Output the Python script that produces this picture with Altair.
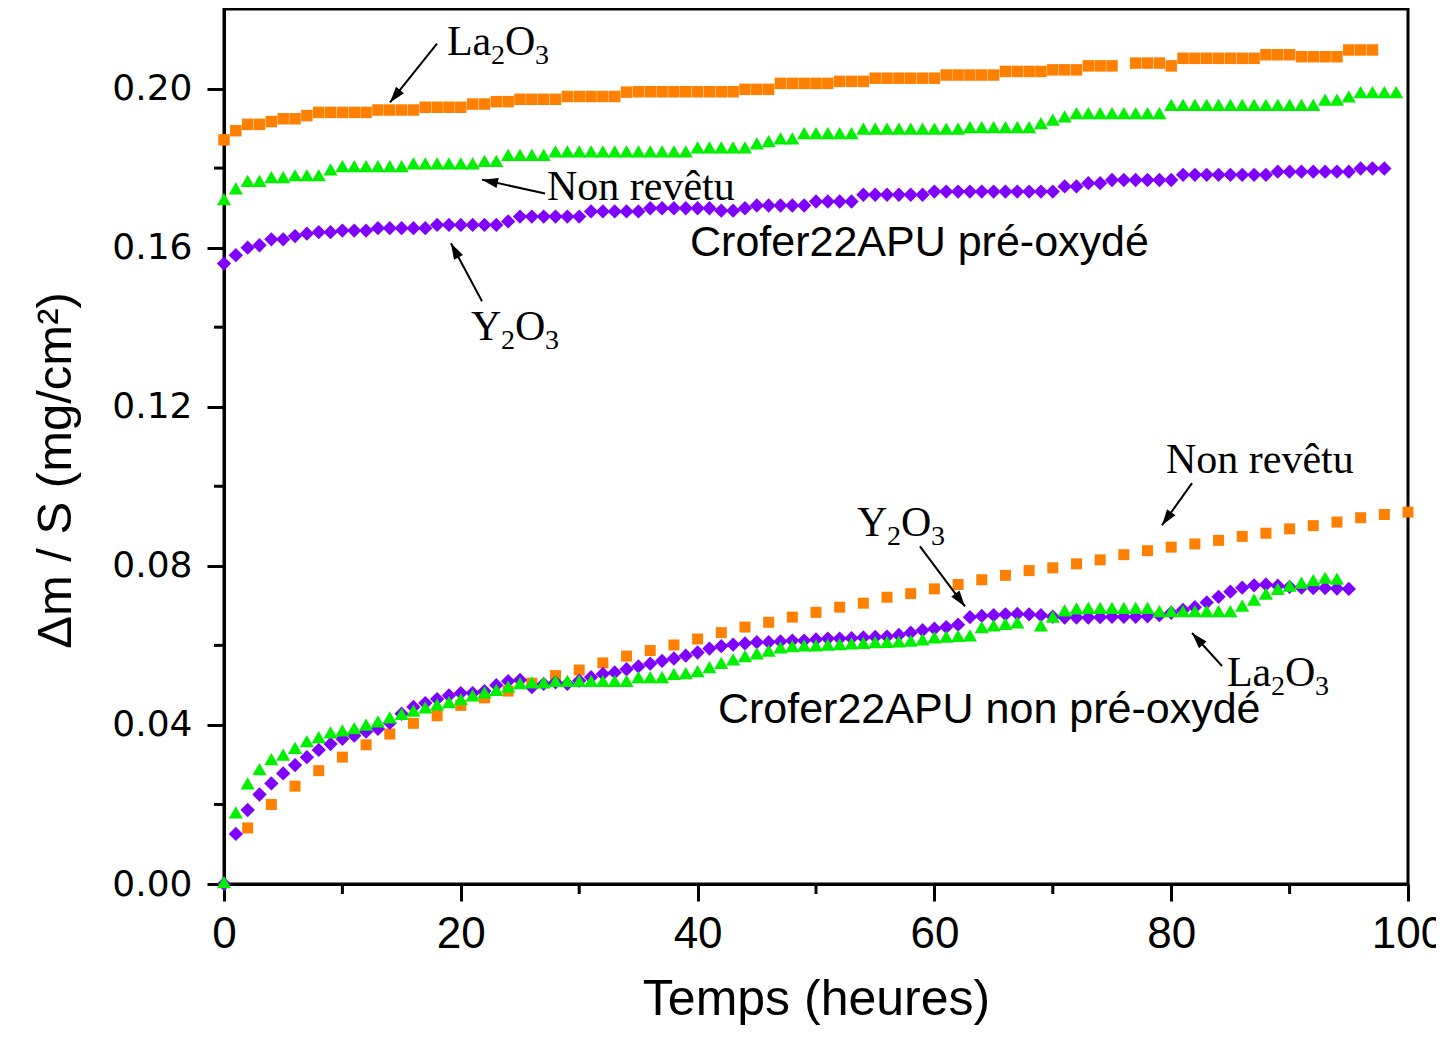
import math
import altair as alt
import pandas as pd

# ---------------- data ----------------
# Crofer22APU pré-oxydé
pre_la_t = [0, 1, 2, 3, 4, 5, 6, 7, 8, 9, 10, 11, 12, 13, 14, 15, 16, 17, 18, 19,
            20, 21, 22, 23, 24, 25, 26, 27, 28, 29, 30, 31, 32, 33, 34, 35, 36, 37, 38, 39,
            40, 41, 42, 43, 44, 45, 46, 47, 48, 49, 50, 51, 52, 53, 54, 55, 56, 57, 58, 59,
            60, 61, 62, 63, 64, 65, 66, 67, 68, 69, 70, 71, 72, 73, 74, 75, 77, 78, 79,
            80, 81, 82, 83, 84, 85, 86, 87, 88, 89, 90, 91, 92, 93, 94, 95, 96, 97]
pre_la_v = [0.1871, 0.1894, 0.1910, 0.1910, 0.1917, 0.1924, 0.1924, 0.1932, 0.1940, 0.1940,
            0.1940, 0.1940, 0.1940, 0.1946, 0.1946, 0.1946, 0.1946, 0.1953, 0.1953, 0.1953,
            0.1953, 0.1961, 0.1961, 0.1967, 0.1967, 0.1973, 0.1973, 0.1973, 0.1973, 0.1980,
            0.1980, 0.1980, 0.1980, 0.1980, 0.1991, 0.1992, 0.1992, 0.1992, 0.1992, 0.1992,
            0.1992, 0.1992, 0.1992, 0.1992, 0.1998, 0.1998, 0.1998, 0.2013, 0.2013, 0.2013,
            0.2013, 0.2013, 0.2018, 0.2018, 0.2018, 0.2026, 0.2026, 0.2026, 0.2026, 0.2026,
            0.2026, 0.2034, 0.2034, 0.2034, 0.2034, 0.2034, 0.2043, 0.2043, 0.2043, 0.2043,
            0.2047, 0.2047, 0.2047, 0.2057, 0.2057, 0.2057, 0.2064, 0.2064, 0.2064,
            0.2057, 0.2076, 0.2076, 0.2076, 0.2076, 0.2076, 0.2076, 0.2076, 0.2085, 0.2085,
            0.2085, 0.2080, 0.2080, 0.2080, 0.2080, 0.2097, 0.2097, 0.2097]

pre_nr_t = [0, 1, 2, 3, 4, 5, 6, 7, 8, 9, 10, 11, 12, 13, 14, 15, 16, 17, 18, 19,
            20, 21, 22, 23, 24, 25, 26, 27, 28, 29, 30, 31, 32, 33, 34, 35, 36, 37, 38, 39,
            40, 41, 42, 43, 44, 45, 46, 47, 48, 49, 50, 51, 52, 53, 54, 55, 56, 57, 58, 59,
            60, 61, 62, 63, 64, 65, 66, 67, 68, 69, 70, 71, 72, 73, 74, 75, 76, 77, 78, 79,
            80, 81, 82, 83, 84, 85, 86, 87, 88, 89, 90, 91, 92, 93, 94, 95, 96, 97, 98, 99]
pre_nr_v = [0.1722, 0.1749, 0.1768, 0.1768, 0.1777, 0.1777, 0.1782, 0.1782, 0.1782, 0.1797,
            0.1805, 0.1805, 0.1805, 0.1805, 0.1805, 0.1805, 0.1812, 0.1812, 0.1812, 0.1812,
            0.1812, 0.1812, 0.1818, 0.1818, 0.1833, 0.1833, 0.1833, 0.1833, 0.1842, 0.1842,
            0.1842, 0.1842, 0.1842, 0.1842, 0.1842, 0.1842, 0.1842, 0.1842, 0.1842, 0.1842,
            0.1852, 0.1852, 0.1852, 0.1852, 0.1852, 0.1862, 0.1868, 0.1875, 0.1875, 0.1888,
            0.1888, 0.1888, 0.1888, 0.1888, 0.1899, 0.1899, 0.1899, 0.1899, 0.1899, 0.1899,
            0.1899, 0.1899, 0.1899, 0.1903, 0.1903, 0.1903, 0.1903, 0.1903, 0.1903, 0.1913,
            0.1922, 0.1930, 0.1938, 0.1938, 0.1938, 0.1938, 0.1938, 0.1938, 0.1938, 0.1938,
            0.1959, 0.1959, 0.1959, 0.1959, 0.1959, 0.1959, 0.1959, 0.1959, 0.1959, 0.1959,
            0.1959, 0.1959, 0.1959, 0.1972, 0.1972, 0.1980, 0.1991, 0.1991, 0.1991, 0.1991]

pre_y_t = [0, 1, 2, 3, 4, 5, 6, 7, 8, 9, 10, 11, 12, 13, 14, 15, 16, 17, 18, 19,
           20, 21, 22, 23, 24, 25, 26, 27, 28, 29, 30, 31, 32, 33, 34, 35, 36, 37, 38, 39,
           40, 41, 42, 43, 44, 45, 46, 47, 48, 49, 50, 51, 52, 53, 54, 55, 56, 57, 58, 59,
           60, 61, 62, 63, 64, 65, 66, 67, 68, 69, 70, 71, 72, 73, 74, 75, 76, 77, 78, 79,
           80, 81, 82, 83, 84, 85, 86, 87, 88, 89, 90, 91, 92, 93, 94, 95, 96, 97, 98]
pre_y_v = [0.1560, 0.1581, 0.1600, 0.1606, 0.1621, 0.1621, 0.1629, 0.1635, 0.1639, 0.1639,
           0.1643, 0.1643, 0.1643, 0.1649, 0.1649, 0.1649, 0.1649, 0.1649, 0.1657, 0.1657,
           0.1657, 0.1657, 0.1657, 0.1657, 0.1666, 0.1678, 0.1678, 0.1678, 0.1678, 0.1678,
           0.1678, 0.1691, 0.1691, 0.1691, 0.1691, 0.1691, 0.1699, 0.1699, 0.1699, 0.1699,
           0.1699, 0.1699, 0.1693, 0.1693, 0.1699, 0.1706, 0.1706, 0.1706, 0.1706, 0.1706,
           0.1716, 0.1716, 0.1716, 0.1716, 0.1733, 0.1733, 0.1733, 0.1733, 0.1733, 0.1733,
           0.1741, 0.1741, 0.1741, 0.1741, 0.1741, 0.1741, 0.1741, 0.1741, 0.1741, 0.1741,
           0.1741, 0.1754, 0.1754, 0.1762, 0.1762, 0.1770, 0.1770, 0.1770, 0.1770, 0.1770,
           0.1770, 0.1783, 0.1783, 0.1783, 0.1783, 0.1783, 0.1783, 0.1783, 0.1783, 0.1791,
           0.1791, 0.1791, 0.1791, 0.1791, 0.1791, 0.1791, 0.1799, 0.1799, 0.1799]

# Crofer22APU non pré-oxydé
non_nr_t = [2, 4, 6, 8, 10, 12, 14, 16, 18, 20, 22, 24, 26, 28, 30, 32, 34, 36, 38, 40,
            42, 44, 46, 48, 50, 52, 54, 56, 58, 60, 62, 64, 66, 68, 70, 72, 74, 76, 78, 80,
            82, 84, 86, 88, 90, 92, 94, 96, 98, 100]
non_nr_v = [0.0141, 0.0200, 0.0246, 0.0285, 0.0319, 0.0350, 0.0377, 0.0404, 0.0423, 0.0449,
            0.0468, 0.0485, 0.0505, 0.0524, 0.0538, 0.0556, 0.0573, 0.0587, 0.0601, 0.0616,
            0.0632, 0.0646, 0.0658, 0.0671, 0.0683, 0.0696, 0.0706, 0.0721, 0.0730, 0.0742,
            0.0753, 0.0765, 0.0776, 0.0788, 0.0795, 0.0805, 0.0815, 0.0828, 0.0838, 0.0847,
            0.0855, 0.0864, 0.0874, 0.0882, 0.0893, 0.0901, 0.0910, 0.0921, 0.0929, 0.0935]

non_y_t = [0, 1, 2, 3, 4, 5, 6, 7, 8, 9, 10, 11, 12, 13, 14, 15, 16, 17, 18, 19,
           20, 21, 22, 23, 24, 25, 26, 27, 28, 29, 30, 31, 32, 33, 34, 35, 36, 37, 38, 39,
           40, 41, 42, 43, 44, 45, 46, 47, 48, 49, 50, 51, 52, 53, 54, 55, 56, 57, 58, 59,
           60, 61, 62, 63, 64, 65, 66, 67, 68, 69, 70, 71, 72, 73, 74, 75, 76, 77, 78, 79,
           80, 81, 82, 83, 84, 85, 86, 87, 88, 89, 90, 91, 92, 93, 94, 95]
non_y_v = [0.0000, 0.0126, 0.0186, 0.0225, 0.0253, 0.0278, 0.0299, 0.0319, 0.0337, 0.0352,
           0.0365, 0.0373, 0.0383, 0.0390, 0.0405, 0.0428, 0.0445, 0.0455, 0.0465, 0.0474,
           0.0480, 0.0480, 0.0485, 0.0500, 0.0510, 0.0513, 0.0495, 0.0503, 0.0507, 0.0503,
           0.0511, 0.0520, 0.0528, 0.0532, 0.0540, 0.0547, 0.0554, 0.0561, 0.0567, 0.0574,
           0.0582, 0.0592, 0.0598, 0.0602, 0.0605, 0.0608, 0.0608, 0.0610, 0.0612, 0.0612,
           0.0615, 0.0617, 0.0617, 0.0618, 0.0620, 0.0621, 0.0622, 0.0626, 0.0632, 0.0638,
           0.0642, 0.0646, 0.0652, 0.0671, 0.0674, 0.0676, 0.0678, 0.0679, 0.0678, 0.0676,
           0.0672, 0.0670, 0.0670, 0.0670, 0.0671, 0.0672, 0.0672, 0.0672, 0.0673, 0.0676,
           0.0682, 0.0689, 0.0696, 0.0708, 0.0722, 0.0735, 0.0745, 0.0751, 0.0753, 0.0750,
           0.0747, 0.0745, 0.0744, 0.0744, 0.0743, 0.0742]

non_la_t = [0, 1, 2, 3, 4, 5, 6, 7, 8, 9, 10, 11, 12, 13, 14, 15, 16, 17, 18, 19,
            20, 21, 22, 23, 24, 25, 26, 27, 28, 29, 30, 31, 32, 33, 34, 35, 36, 37, 38, 39,
            40, 41, 42, 43, 44, 45, 46, 47, 48, 49, 50, 51, 52, 53, 54, 55, 56, 57, 58, 59,
            60, 61, 62, 63, 64, 65, 66, 67, 69, 70, 71, 72, 73, 74, 75, 76, 77, 78, 79,
            80, 81, 82, 83, 84, 85, 86, 87, 88, 89, 90, 91, 92, 93, 94]
non_la_v = [0.0005, 0.0180, 0.0253, 0.0289, 0.0314, 0.0325, 0.0342, 0.0359, 0.0369, 0.0381,
            0.0386, 0.0392, 0.0401, 0.0409, 0.0419, 0.0428, 0.0436, 0.0444, 0.0451, 0.0457,
            0.0465, 0.0474, 0.0482, 0.0488, 0.0496, 0.0505, 0.0507, 0.0507, 0.0511, 0.0511,
            0.0511, 0.0511, 0.0511, 0.0511, 0.0511, 0.0520, 0.0520, 0.0520, 0.0528, 0.0530,
            0.0535, 0.0545, 0.0556, 0.0565, 0.0573, 0.0580, 0.0587, 0.0595, 0.0598, 0.0600,
            0.0600, 0.0602, 0.0603, 0.0605, 0.0606, 0.0608, 0.0609, 0.0610, 0.0612, 0.0615,
            0.0620, 0.0622, 0.0624, 0.0625, 0.0646, 0.0650, 0.0654, 0.0658, 0.0650, 0.0672,
            0.0688, 0.0693, 0.0694, 0.0694, 0.0694, 0.0694, 0.0694, 0.0694, 0.0686,
            0.0686, 0.0686, 0.0686, 0.0686, 0.0686, 0.0686, 0.0700, 0.0715, 0.0730, 0.0742,
            0.0750, 0.0758, 0.0764, 0.0770, 0.0768]

x_ticks = [0, 20, 40, 60, 80, 100]
x_minor = [10, 30, 50, 70, 90]
y_ticks = [0.0, 0.04, 0.08, 0.12, 0.16, 0.20]
y_minor = [0.02, 0.06, 0.10, 0.14, 0.18]

# ---------------- layout / style ----------------
W, H = 1184, 875
X_DOM, Y_DOM = [0, 100], [0, 0.22]
ORANGE, GREEN, PURPLE = "#FF8000", "#00F000", "#7F00FF"
SERIF = "Liberation Serif"
SANS = "Liberation Sans"

xs = alt.Scale(domain=X_DOM, nice=False, zero=False)
ys = alt.Scale(domain=Y_DOM, nice=False, zero=False)

x_axis = alt.Axis(values=x_ticks, title="Temps (heures)", grid=False, tickSize=17, tickWidth=3,
                  domainWidth=3, domainColor="black", tickColor="black",
                  labelFont=SANS, labelFontSize=44, labelColor="black",
                  labelPadding=11, labelFlush=False, labelOverlap=False, format="d",
                  titleFont=SANS, titleFontSize=50, titleFontWeight="normal", titleColor="black",
                  titleX=W / 2, titleY=130, titleAlign="center", titleBaseline="alphabetic")
y_axis = alt.Axis(values=y_ticks, title="Δm / S (mg/cm²)", grid=False, tickSize=17, tickWidth=3,
                  domainWidth=3, domainColor="black", tickColor="black", format=".2f",
                  labelFont="DejaVu Sans", labelFontSize=36, labelColor="black",
                  labelPadding=15, labelFlush=False, labelOverlap=False,
                  titleFont=SANS, titleFontSize=49, titleFontWeight="normal", titleColor="black",
                  titleX=-169, titleY=461, titleAngle=270, titleAlign="center",
                  titleBaseline="middle")

X = alt.X("t:Q", scale=xs, axis=x_axis)
Y = alt.Y("dm:Q", scale=ys, axis=y_axis)


def series(t, v, shape, color, size):
    df = pd.DataFrame({"t": t, "dm": v})
    return alt.Chart(df).mark_point(shape=shape, filled=True, size=size, color=color,
                                    opacity=1, strokeWidth=0).encode(x=X, y=Y)


def label(t, v, text, font, size, dx=0, dy=0):
    df = pd.DataFrame({"t": [t], "dm": [v], "s": [text]})
    return alt.Chart(df).mark_text(font=font, fontSize=size, align="left", baseline="alphabetic",
                                   color="black", dx=dx, dy=dy).encode(x=X, y=Y, text="s:N")


def formula(t, v, first, first_w):
    # e.g. La2O3 / Y2O3 with real subscripts
    return [label(t, v, first, SERIF, 42),
            label(t, v, "2", SERIF, 28, dx=first_w, dy=9),
            label(t, v, "O", SERIF, 42, dx=first_w + 14),
            label(t, v, "3", SERIF, 28, dx=first_w + 44, dy=9)]


def arrow(t0, v0, t1, v1):
    df = pd.DataFrame({"t": [t0], "dm": [v0], "t2": [t1], "dm2": [v1]})
    line = alt.Chart(df).mark_rule(color="black", strokeWidth=2).encode(
        x=X, y=Y, x2=alt.X2("t2"), y2=alt.Y2("dm2"))
    dxp = (t1 - t0) * W / (X_DOM[1] - X_DOM[0])
    dyp = -(v1 - v0) * H / (Y_DOM[1] - Y_DOM[0])
    ang = math.degrees(math.atan2(dxp, -dyp)) % 360
    tip = pd.DataFrame({"t": [t1], "dm": [v1]})
    head = alt.Chart(tip).mark_point(shape="M0,0L0.32,1L-0.32,1Z", size=1024, filled=True,
                                     color="black", opacity=1, strokeWidth=0,
                                     angle=ang).encode(x=X, y=Y)
    return [line, head]


layers = [
    series(pre_la_t, pre_la_v, "square", ORANGE, 132),
    series(pre_nr_t, pre_nr_v, "triangle-up", GREEN, 200),
    series(pre_y_t, pre_y_v, "diamond", PURPLE, 205),
    series(non_nr_t, non_nr_v, "square", ORANGE, 121),
    series(non_y_t, non_y_v, "diamond", PURPLE, 205),
    series(non_la_t, non_la_v, "triangle-up", GREEN, 200),
]

# minor ticks
layers.append(alt.Chart(pd.DataFrame({"t": x_minor})).mark_rule(color="black", strokeWidth=3)
              .encode(x=X, y=alt.value(H), y2=alt.value(H + 10)))
layers.append(alt.Chart(pd.DataFrame({"dm": y_minor})).mark_rule(color="black", strokeWidth=3)
              .encode(y=Y, x=alt.value(0), x2=alt.value(-10)))

# annotations
layers += formula(18.83, 0.2085, "La", 44)
layers += arrow(17.99, 0.2113, 14.02, 0.1965)
layers.append(label(27.28, 0.1719, "Non revêtu", SERIF, 42))
layers += arrow(27.11, 0.1736, 21.79, 0.1771)
layers += formula(20.86, 0.1369, "Y", 30)
layers += arrow(21.79, 0.1465, 19.17, 0.1611)
layers.append(label(39.36, 0.1578, "Crofer22APU pré-oxydé", SANS, 43))

layers.append(label(79.56, 0.1033, "Non revêtu", SERIF, 42))
layers += arrow(81.76, 0.1008, 79.22, 0.0902)
layers += formula(53.46, 0.0874, "Y", 30)
layers += arrow(58.78, 0.0849, 62.58, 0.0698)
layers += formula(84.71, 0.0497, "La", 44)
layers += arrow(84.29, 0.0548, 81.76, 0.0631)
layers.append(label(41.72, 0.0405, "Crofer22APU non pré-oxydé", SANS, 43))

chart = alt.layer(*layers).properties(
    width=W, height=H,
    autosize=alt.AutoSizeParams(type="none"),
    padding={"left": 216, "top": 1, "right": 28, "bottom": 144},
    background="white",
).configure_view(stroke="black", strokeWidth=3)

chart.save("out.html", embed_options={"renderer": "svg", "actions": False})
